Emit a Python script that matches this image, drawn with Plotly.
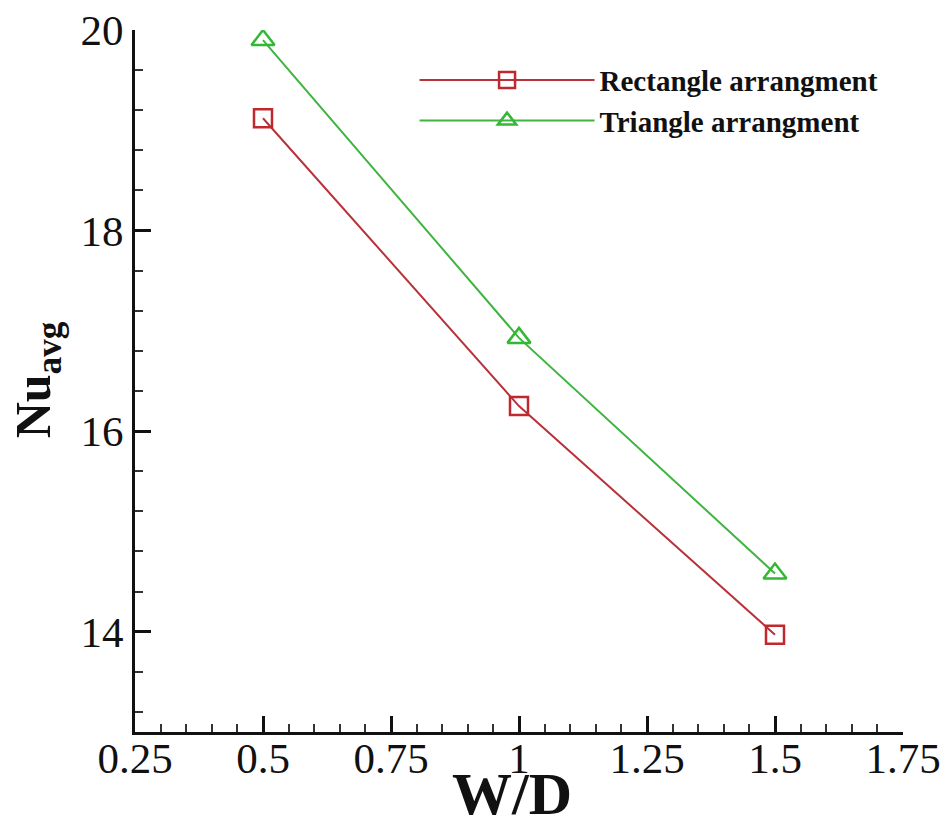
import plotly.graph_objects as go

# W/D ratios and average Nusselt numbers for the two fin arrangements
wd = [0.5, 1.0, 1.5]
nu_rectangle = [19.12, 16.25, 13.97]
nu_triangle = [19.90, 16.93, 14.58]

x_ticks = [0.25, 0.5, 0.75, 1.0, 1.25, 1.5, 1.75]
x_tick_text = ["0.25", "0.5", "0.75", "1", "1.25", "1.5", "1.75"]
y_ticks = [14, 16, 18, 20]

serif = "Liberation Serif, Times New Roman, serif"
red = "#b8323a"
green = "#3fb43f"

fig = go.Figure()
fig.add_trace(go.Scatter(
    x=wd, y=nu_rectangle, mode="lines+markers", name="<b>Rectangle arrangment</b>",
    line=dict(color=red, width=2),
    marker=dict(symbol="square-open", size=18, color="#c0282d", line=dict(width=2.5)),
))
fig.add_trace(go.Scatter(
    x=wd, y=nu_triangle, mode="lines+markers", name="<b>Triangle arrangment</b>",
    line=dict(color=green, width=2),
    marker=dict(symbol="triangle-up-open", size=20, color="#33b833", line=dict(width=2.5)),
))

fig.update_layout(
    width=945, height=817,
    margin=dict(l=135, r=42, t=30, b=85),
    paper_bgcolor="white", plot_bgcolor="white",
    font=dict(family=serif, color="#111"),
    showlegend=True,
    legend=dict(
        x=0.364, y=0.965, xanchor="left", yanchor="top",
        bgcolor="rgba(0,0,0,0)", itemwidth=175,
        font=dict(family=serif, size=29, color="#111"),
        tracegroupgap=14, itemsizing="trace",
    ),
    annotations=[
        dict(text="<b>W/D</b>", xref="paper", yref="paper", x=0.491, y=-0.088,
             xanchor="center", yanchor="middle", showarrow=False,
             font=dict(family=serif, size=60, color="#111")),
        dict(text="<b>Nu<sub>avg</sub></b>", xref="paper", yref="paper", x=-0.128, y=0.502,
             xanchor="center", yanchor="middle", showarrow=False, textangle=-90,
             font=dict(family=serif, size=50, color="#111")),
    ],
)
fig.update_xaxes(
    range=[0.25, 1.75], tickvals=x_ticks, ticktext=x_tick_text,
    automargin=False, ticklabelstandoff=-14,
    showline=True, linecolor="#111", linewidth=3, mirror=False,
    ticks="inside", ticklen=16, tickwidth=2.5, tickcolor="#111",
    minor=dict(ticks="inside", ticklen=8, tickwidth=1.5, tickcolor="#333",
               dtick=0.05, tick0=0.25),
    showgrid=False, zeroline=False,
    tickfont=dict(family=serif, size=43, color="#111"),
)
fig.update_yaxes(
    range=[13, 20], tickvals=y_ticks,
    automargin=False,
    showline=True, linecolor="#111", linewidth=3, mirror=False,
    ticks="inside", ticklen=16, tickwidth=2.5, tickcolor="#111",
    minor=dict(ticks="inside", ticklen=8, tickwidth=1.5, tickcolor="#333",
               dtick=0.4, tick0=14),
    showgrid=False, zeroline=False,
    tickfont=dict(family=serif, size=43, color="#111"),
)

fig.write_html("out.html")
